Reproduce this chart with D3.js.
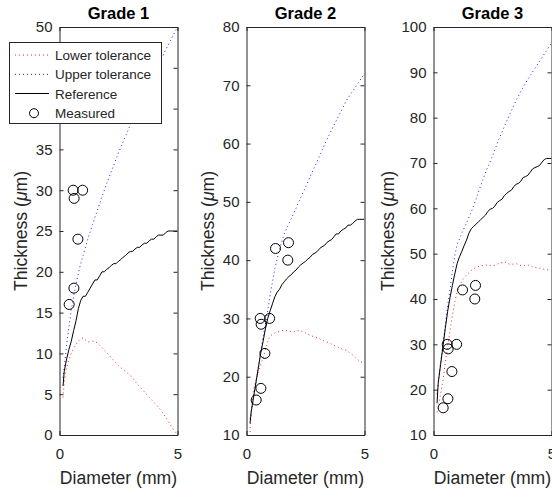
<!DOCTYPE html>
<html>
<head>
<meta charset="utf-8">
<script src="https://cdn.jsdelivr.net/npm/d3@7"></script>
<style>
  html, body { margin: 0; padding: 0; background: #fff; }
  svg { display: block; }
  text { font-family: "Liberation Sans", Arial, Helvetica, sans-serif; }
</style>
</head>
<body>
<div id="chart"></div>
<script>
// ---------------- DATA ----------------
const panelTitles = ["Grade 1", "Grade 2", "Grade 3"];
const xTicks = [0, 5];
const yDomains = [[0, 50], [10, 80], [10, 100]];
const yTicks1 = [0, 5, 10, 15, 20, 25, 30, 35, 40, 45, 50];
const yTicks2 = [10, 20, 30, 40, 50, 60, 70, 80];
const yTicks3 = [10, 20, 30, 40, 50, 60, 70, 80, 90, 100];

// Diameter grid of the reference curves (mm)
const xRef = [0.15, 0.2, 0.3, 0.4, 0.5, 0.6, 0.7, 0.8, 0.9, 1.0,
  1.1, 1.2, 1.3, 1.4, 1.5, 1.6, 1.7, 1.8, 1.9, 2.0,
  2.1, 2.2, 2.3, 2.4, 2.5, 2.6, 2.7, 2.8, 2.9, 3.0,
  3.1, 3.2, 3.3, 3.4, 3.5, 3.6, 3.7, 3.8, 3.9, 4.0,
  4.1, 4.2, 4.3, 4.4, 4.5, 4.6, 4.7, 4.8, 4.9, 5.0];

const ref1 = [6, 7.8, 9.3, 10.5, 11.5, 12.8, 14, 15.5, 16.5, 17,
  17, 17.5, 18, 18.5, 19, 19, 19.5, 20, 20, 20.3,
  20.5, 20.8, 21, 21, 21.3, 21.5, 21.8, 22, 22.3, 22.5,
  22.5, 22.8, 23, 23, 23.3, 23.5, 23.5, 23.8, 24, 24,
  24.3, 24.5, 24.5, 24.5, 24.8, 25, 25, 25, 25, 25];
const ref2 = [12, 14, 16.5, 19, 21.5, 24, 26, 28.2, 30, 31.3,
  32.5, 33.7, 34.5, 35, 35.8, 36.3, 36.8, 37.2, 37.5, 38,
  38.3, 38.8, 39.2, 39.5, 39.8, 40.2, 40.5, 41, 41.2, 41.5,
  42, 42.3, 42.5, 43, 43.3, 43.5, 44, 44.5, 44.5, 45,
  45.3, 45.5, 46, 46, 46.3, 46.7, 47, 47, 47, 47];
const ref3 = [17, 21.5, 25.5, 29.5, 33.5, 37.3, 40.3, 43, 45.5, 47.8,
  49.3, 50.5, 51.8, 53, 54.5, 55.5, 56, 56.5, 57, 57.5,
  58, 58.5, 59.3, 59.8, 60, 60.5, 61.3, 61.7, 62, 62.8,
  63.3, 63.7, 64, 64.8, 65.3, 65.5, 66, 66.8, 67, 67.3,
  68, 68.7, 69, 69.2, 69.5, 70.2, 70.8, 71, 71, 71];

// Diameter grid of the tolerance curves (mm)
const xTol = [0.15, 0.2, 0.3, 0.4, 0.5, 0.6, 0.7, 0.8, 0.9, 1.0,
  1.2, 1.4, 1.6, 1.8, 2.0, 2.25, 2.5, 2.75, 3.0, 3.25,
  3.5, 3.75, 4.0, 4.25, 4.5, 4.75, 5.0];

const upper1 = [7, 8.3, 11, 13.3, 15.3, 17, 18.5, 19.8, 21, 22,
  24, 25.8, 27.5, 29.2, 30.8, 32.7, 34.6, 36.3, 38, 39.6,
  41.2, 42.7, 44.2, 45.7, 47.2, 48.6, 50];
const lower1 = [4.6, 6.5, 8.2, 9.3, 10, 10.6, 11.1, 11.5, 11.8, 11.9,
  11.4, 11.5, 11.3, 10.7, 10.1, 9.3, 8.5, 7.9, 7.3, 6.4,
  5.6, 4.8, 4.0, 3.2, 2.2, 1.0, 0];
const upper2 = [12.8, 14, 16.5, 19, 21.7, 24.3, 26.8, 29, 31.3, 34,
  38.5, 42, 44.5, 46.3, 48, 50.3, 52.5, 54.8, 57, 59.3,
  61.5, 63.5, 65.5, 67.5, 69, 70.5, 72];
const lower2 = [10.5, 14, 17.8, 19.5, 20.7, 22, 23.2, 24.5, 26, 27,
  27.5, 27.8, 28, 27.8, 27.7, 28, 27.5, 27, 26.7, 26.2,
  25.8, 25.3, 24.8, 24.5, 23.7, 22.8, 22.2];
const upper3 = [19, 21.5, 26, 30.2, 34.5, 38.5, 42.3, 46, 49.5, 52,
  54.5, 56.8, 59.2, 62, 65, 68.5, 71.5, 75, 78, 81,
  83.8, 86.3, 88.5, 90.5, 92.5, 94.5, 96.5];
const lower3 = [15, 16, 19, 22, 26, 29.5, 33, 36.3, 39.3, 41.5,
  44, 45.3, 46.3, 47, 47.3, 47.5, 47.3, 47.8, 48.2, 47.6,
  47.8, 47.3, 47.5, 47, 46.8, 46.5, 46.3];

// Measured samples (same in every grade)
const measuredX = [0.41, 0.61, 0.78, 0.62, 0.58, 0.98, 1.23, 1.75, 1.78];
const measuredY = [16, 18, 24, 29, 30, 30, 42, 40, 43];

const legendLabels = ["Lower tolerance", "Upper tolerance", "Reference", "Measured"];

// ---------------- LAYOUT ----------------
const W = 552, H = 490;
const axLeft = [59.5, 246.5, 433.5];
const axW = 118, axTop = 27, axBottom = 435;
const textCol = "#262626";

const panels = [
  { ref: ref1, up: upper1, lo: lower1, yt: yTicks1 },
  { ref: ref2, up: upper2, lo: lower2, yt: yTicks2 },
  { ref: ref3, up: upper3, lo: lower3, yt: yTicks3 }
];

const svg = d3.select("#chart").append("svg")
  .attr("width", W).attr("height", H);

const lineStyles = {
  lower: { stroke: "#ff2020", dash: "1 3", width: 1 },
  upper: { stroke: "#2020ff", dash: "1 3", width: 1 },
  ref:   { stroke: "#000000", dash: null, width: 1 }
};

panels.forEach((p, i) => {
  const x = d3.scaleLinear().domain([0, 5]).range([axLeft[i], axLeft[i] + axW]);
  const y = d3.scaleLinear().domain(yDomains[i]).range([axBottom, axTop]);
  const g = svg.append("g");

  const clipId = "clip" + i;
  svg.append("clipPath").attr("id", clipId).append("rect")
    .attr("x", axLeft[i]).attr("y", axTop).attr("width", axW).attr("height", axBottom - axTop);

  const plot = g.append("g").attr("clip-path", `url(#${clipId})`);
  const line = d3.line().x(d => x(d[0])).y(d => y(d[1]));

  const drawLine = (xs, ys, st) => {
    plot.append("path")
      .datum(xs.map((v, k) => [v, ys[k]]))
      .attr("d", line)
      .attr("fill", "none")
      .attr("stroke", st.stroke)
      .attr("stroke-width", st.width)
      .attr("stroke-dasharray", st.dash);
  };
  drawLine(xTol, p.lo, lineStyles.lower);
  drawLine(xTol, p.up, lineStyles.upper);
  drawLine(xRef, p.ref, lineStyles.ref);

  plot.selectAll("circle.m").data(measuredX.map((v, k) => [v, measuredY[k]]))
    .enter().append("circle")
    .attr("cx", d => x(d[0])).attr("cy", d => y(d[1]))
    .attr("r", 5).attr("fill", "none").attr("stroke", "#000").attr("stroke-width", 1);

  // Axes
  const fmt = d3.format("d");
  const yAxisL = d3.axisLeft(y).tickValues(p.yt).tickFormat(fmt).tickSizeInner(-4).tickSizeOuter(0).tickPadding(7);
  const yAxisR = d3.axisRight(y).tickValues(p.yt).tickSizeInner(-4).tickSizeOuter(0).tickFormat("");
  const xAxisB = d3.axisBottom(x).tickValues(xTicks).tickFormat(fmt).tickSizeInner(-4).tickSizeOuter(0).tickPadding(13);
  const xAxisT = d3.axisTop(x).tickValues(xTicks).tickSizeInner(-4).tickSizeOuter(0).tickFormat("");

  const styleAxis = sel => {
    sel.select(".domain").attr("stroke", textCol).attr("stroke-width", 1);
    sel.selectAll(".tick line").attr("stroke", textCol);
    sel.selectAll("text").attr("fill", textCol).style("font-size", "15px")
      .style("font-family", '"Liberation Sans", Arial, sans-serif');
  };
  g.append("g").attr("transform", `translate(${axLeft[i]},0)`).call(yAxisL).call(styleAxis);
  g.append("g").attr("transform", `translate(${axLeft[i] + axW},0)`).call(yAxisR).call(styleAxis);
  g.append("g").attr("transform", `translate(0,${axBottom})`).call(xAxisB).call(styleAxis);
  g.append("g").attr("transform", `translate(0,${axTop})`).call(xAxisT).call(styleAxis);

  // Title
  g.append("text")
    .attr("x", axLeft[i] + axW / 2).attr("y", 19)
    .attr("text-anchor", "middle")
    .style("font-size", "16.5px").style("font-weight", "bold")
    .attr("fill", "#000")
    .text(panelTitles[i]);

  // X label
  g.append("text")
    .attr("x", axLeft[i] + axW / 2).attr("y", 484)
    .attr("text-anchor", "middle")
    .style("font-size", "17.6px")
    .attr("fill", textCol)
    .text("Diameter (mm)");

  // Y label
  const labelX = [26.7, 214, 393.5][i];
  const yl = g.append("text")
    .attr("transform", `translate(${labelX},${(axTop + axBottom) / 2}) rotate(-90)`)
    .attr("text-anchor", "middle")
    .style("font-size", "17.6px")
    .attr("fill", textCol);
  yl.append("tspan").text("Thickness (");
  yl.append("tspan").style("font-style", "italic").text("\u03bc");
  yl.append("tspan").text("m)");
});

// ---------------- LEGEND (on Grade 1) ----------------
const lg = svg.append("g");
lg.append("rect")
  .attr("x", 9.5).attr("y", 42.5).attr("width", 152).attr("height", 81)
  .attr("fill", "#fff").attr("stroke", textCol).attr("stroke-width", 1);
const legendY = [55, 74.3, 93.5, 113.2];
const legendStyles = [lineStyles.lower, lineStyles.upper, lineStyles.ref, null];
legendLabels.forEach((lab, k) => {
  const st = legendStyles[k];
  if (st) {
    lg.append("line")
      .attr("x1", 15).attr("x2", 49).attr("y1", legendY[k]).attr("y2", legendY[k])
      .attr("stroke", st.stroke).attr("stroke-width", st.width)
      .attr("stroke-dasharray", st.dash);
  } else {
    lg.append("circle").attr("cx", 34).attr("cy", legendY[k]).attr("r", 4.5)
      .attr("fill", "none").attr("stroke", "#000").attr("stroke-width", 1);
  }
  lg.append("text")
    .attr("x", 55).attr("y", legendY[k] + 5)
    .style("font-size", "13.5px")
    .attr("fill", textCol)
    .text(lab);
});
</script>
</body>
</html>
